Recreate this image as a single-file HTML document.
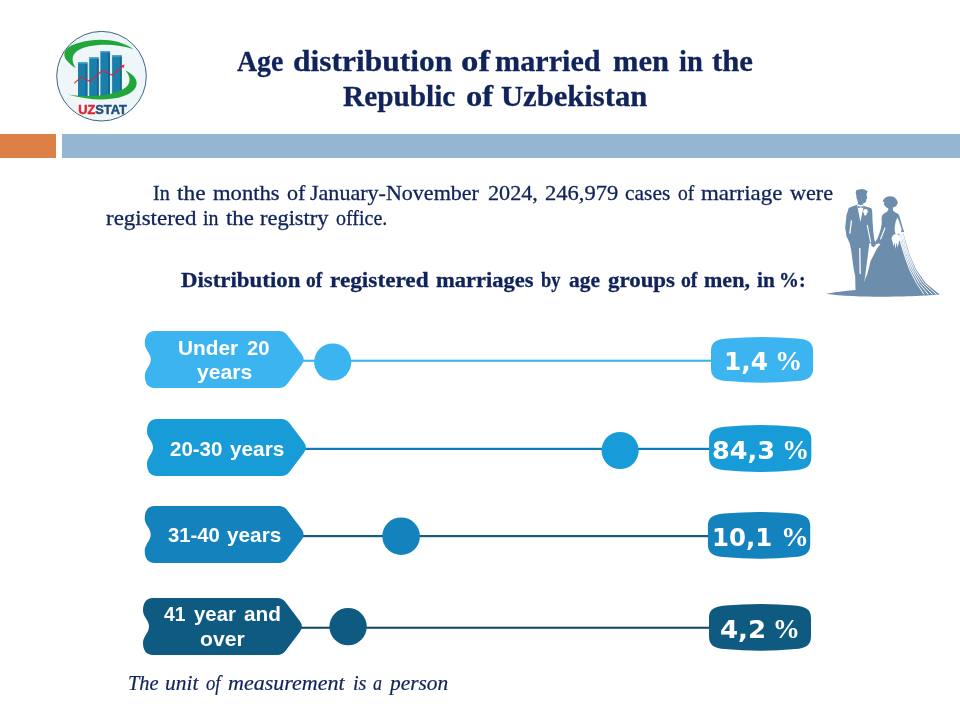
<!DOCTYPE html>
<html lang="en">
<head>
<meta charset="utf-8">
<title>Age distribution of married men in the Republic of Uzbekistan</title>
<style>
html,body{margin:0;padding:0;background:#fff;}
body{width:960px;height:720px;position:relative;overflow:hidden;font-family:"Liberation Serif",serif;color:#0f2259;}
.abs{position:absolute;}
#bar1{left:0;top:134px;width:56px;height:23.5px;background:#dd8047;}
#bar2{left:62px;top:134px;width:898px;height:23.5px;background:#94b6d2;}
.ln{position:absolute;left:0;width:960px;white-space:nowrap;color:#10235a;}
.ln span{position:absolute;top:0;display:block;transform-origin:0 50%;}
.tt,.sb{font-weight:bold;-webkit-text-stroke:0.3px #10235a;}
.pp{-webkit-text-stroke:0.3px #10235a;}
.ft{font-style:italic;-webkit-text-stroke:0.2px #10235a;}
.lb{font-family:"Liberation Sans",sans-serif;font-weight:bold;color:#fff;}
.vd{font-family:"DejaVu Sans","Liberation Sans",sans-serif;font-weight:bold;color:#fff;}
.vp{font-weight:bold;color:#fff;}
svg{position:absolute;left:0;top:0;}
</style>
</head>
<body>
<div class="abs" id="bar1"></div>
<div class="abs" id="bar2"></div>

<svg width="960" height="720" viewBox="0 0 960 720">
  <defs>
    <path id="tag" d="M10,0 H134 Q139.400,0 142.400,4 L156.800,22.900 Q161,28.500 156.800,34.100 L142.400,53 Q139.400,57 134,57 H10 C3,57 0,52 0,45 C0,38 6,35 6,28.500 C6,22 0,19 0,12.500 C0,5 3,0 10,0 Z"/>
    <path id="box" d="M16,1.800 Q51,-1.600 86,1.800 C97,2.600 102,6 102,14 V32.500 C102,40.500 97,43.900 86,44.700 Q51,48.100 16,44.700 C5,43.900 0,40.500 0,32.500 V14 C0,6 5,2.600 16,1.800 Z"/>
    <linearGradient id="vg" x1="0" y1="232" x2="0" y2="284" gradientUnits="userSpaceOnUse"><stop offset="0" stop-color="#fff" stop-opacity="0.650"/><stop offset="1" stop-color="#fff" stop-opacity="0"/></linearGradient>
  </defs>
  <!-- row 1 -->
  <g fill="#3cb4f0">
    <rect x="300" y="359.700" width="415" height="2.100"/>
    <use href="#tag" x="144.800" y="331"/>
    <circle cx="332.750" cy="362" r="18.600"/>
    <use href="#box" transform="translate(711,336.800) scale(1.001,0.990)"/>
  </g>
  <!-- row 2 -->
  <g fill="#189cd8">
    <rect x="302" y="447.800" width="412" height="2.200" fill="#1478b8"/>
    <use href="#tag" x="147" y="419"/>
    <circle cx="620.100" cy="450.500" r="18.600"/>
    <use href="#box" transform="translate(709.100,424.800) scale(1.002,1.017)"/>
  </g>
  <!-- row 3 -->
  <g fill="#1482bc">
    <rect x="300" y="535" width="412" height="2.200" fill="#1a5a80"/>
    <use href="#tag" x="144.700" y="506"/>
    <circle cx="401.100" cy="536.200" r="18.800"/>
    <use href="#box" transform="translate(707.900,511.800) scale(1.003,1.012)"/>
  </g>
  <!-- row 4 -->
  <g fill="#0f5a80">
    <rect x="298" y="626.700" width="415" height="2.100" fill="#17496b"/>
    <use href="#tag" x="143" y="598"/>
    <circle cx="348.100" cy="626.600" r="18.700"/>
    <use href="#box" transform="translate(709,603.800) scale(1,1.012)"/>
  </g>

  <!-- logo -->
  <g id="logo">
    <circle cx="101.500" cy="76.200" r="44.800" fill="#eef6fa" stroke="#3d6483" stroke-width="1"/>
    <path d="M133.400,49.300 C120,39 98,37.500 80,42.500 C62,47 58,57 76,68.250 C69,58 73,50 88,46.500 C103,43.500 120,44.500 133.400,49.300 Z" fill="#21a63a"/>
    <g fill="#d4eef8">
      <rect x="87.300" y="63" width="1.900" height="33"/>
      <rect x="98.600" y="58" width="1.900" height="38.400"/>
      <rect x="109.800" y="52" width="1.900" height="43"/>
    </g>
    <g fill="#1b7fab">
      <rect x="78" y="62.300" width="9.400" height="33.700"/>
      <rect x="89.200" y="57.400" width="9.500" height="39"/>
      <rect x="100.400" y="51.100" width="9.500" height="45.300"/>
      <rect x="112.100" y="55.300" width="9.600" height="39"/>
    </g>
    <g fill="#17678f">
      <rect x="85.600" y="63.600" width="1.800" height="32.400"/>
      <rect x="96.900" y="58.700" width="1.800" height="37.700"/>
      <rect x="108.100" y="52.400" width="1.800" height="44"/>
      <rect x="119.900" y="56.600" width="1.800" height="37"/>
    </g>
    <g fill="#4fa6cc">
      <rect x="78" y="62.300" width="9.400" height="1.300"/>
      <rect x="89.200" y="57.400" width="9.500" height="1.300"/>
      <rect x="100.400" y="51.100" width="9.500" height="1.300"/>
      <rect x="112.100" y="55.300" width="9.600" height="1.300"/>
    </g>
    <path d="M125.300,70.400 C137.500,76 140.500,85 131.500,92 C121,100 97,102.500 67.900,94.400 C92,97.800 112,95.500 123.500,89 C131,84.500 131.500,77 125.300,70.400 Z" fill="#21a63a"/>
    <polyline points="74.700,82.900 81.400,76.900 90.100,81.500 102.500,70.400 112.300,75.300 122.500,66.500" fill="none" stroke="#d9263a" stroke-width="1.100" stroke-linejoin="round" stroke-linecap="round"/>
    <path d="M124.600,64.600 L121,65.600 L123.400,68.200 Z" fill="#d9263a"/>
    <text x="78.200" y="113.700" font-family="'Liberation Sans',sans-serif" font-weight="bold" font-size="12.600" fill="#1f4e79" stroke="#1f4e79" stroke-width="0.450" textLength="48.700" lengthAdjust="spacingAndGlyphs"><tspan fill="#dd2330" stroke="#dd2330">UZ</tspan>STAT</text>
  </g>
  <!-- couple -->
  <g id="couple" fill="#6c8dac">
    <path d="M825.750,293.800 C835,292 848,290.600 856,290 L900,289 L930,291.500 L939.500,294.100 C930,295.800 905,296.800 880,296.800 C865,296.800 840,296 825.750,293.800 Z"/>
    <path id="groom" d="M861.500,189 L864.500,189.600 L867.700,191.200 L866.900,193 L866.600,194.300 L866.900,196.500 L867.300,198.600 L866.300,199.300 L866.200,201 L865.200,202.700 L863,203.400 L863.200,205 L864,206 L868,207.300 L871.400,208.300 L872.200,211.500 L872.500,220.500 L873.500,233.600 L874.300,240 L876,242.700 L875.500,245.500 L873.500,247.200 L871.500,246 L870.800,243 L869.300,243.500 L865.200,276 L863.500,286 L861,290.500 L855.500,290.500 L855.200,276 L853.900,270.200 L851,249.300 L849.750,243.500 L846.400,236 L845.200,227.300 L845.500,224.800 L846.500,215 L848.750,208.100 L852,206.600 L857.100,204.800 L858.200,203 L857.400,200.500 L856.500,198 L856.300,195.500 L855.700,192.400 L856.300,190.300 L858.500,189.500 Z"/>
    <path id="bride" d="M890.300,196.200 L893.500,196.800 L896,198.800 L897.600,201.500 L897.600,203.500 L896.500,205.500 L895.200,206.800 L893.200,207.300 L892.900,208.500 L893,210.500 L895,212.300 L898.400,213.900 L899.500,216.500 L902.700,227.800 L904.200,232.100 L902.9,232 L905.7,241.7 L909.9,255.6 L916.1,269.4 L925.8,283.3 L939.7,294.4 L900,296 L861,290.500 L864,282 L867.500,273.500 L870.600,261 L877,248.500 L880.500,244 L878.500,243.500 L875.500,244.500 L875.200,242.500 L877.700,238 L880.500,230 L881.700,224 L881.600,218 L882.300,215 L884.500,213.200 L887.500,211.300 L888.500,209.200 L888,208 L886.300,207.400 L885,206 L883.800,204 L884.300,202.500 L882.800,201.300 L883.500,199.500 L885.500,197.600 L888,196.500 Z"/>
    <g fill="#fff" stroke="none">
      <path d="M857.100,204.600 L858.200,204.200 L860.500,205.300 L863,204.500 L863.800,205.500 L860.400,221.900 Z"/>
      <circle cx="865.500" cy="211.500" r="2.400"/>
      <circle cx="865.300" cy="214.300" r="1.200"/>
      <path d="M897.400,217.500 L895.600,222 L894.600,227.800 L894.800,231.500 L895.800,234.500 L900.800,233 L901.600,229.200 L898.600,220 Z"/>
      <circle cx="896" cy="238.500" r="4.400"/>
      <path d="M892.500,241 L893.400,246.500 L894.600,242.500 L895.500,249 L896.600,242.500 L897.800,247.500 L899,241 Z"/>
    </g>
    <path d="M857.900,205.800 L860.600,206.700 L863.700,205.900 L863.600,208.100 L860.600,207.400 L858,208.100 Z"/>
    <path d="M899.5,233 L900.1,241.7 L904.3,255.6 L909.2,269.4 L916.1,283.3 L925.8,283.3 L916.1,269.4 L909.9,255.6 L905.7,241.7 L902.9,232 Z" fill="url(#vg)"/>
    <g fill="none" stroke="#fff" stroke-linecap="round">
      <path d="M851.400,221 L849.900,233" stroke-width="1.300"/>
      <path d="M867.250,225.200 L870.600,241.800" stroke-width="1.100"/>
      <path d="M859.750,248.500 L860.200,273.500" stroke-width="1.300"/>
      <path d="M885,228 L880.600,239" stroke-width="1.100"/>
      <g stroke-width="1" stroke-linejoin="round" opacity="0.950">
        <path d="M899.7,232.9 L900.4,241.7 L904.6,255.6 L909.5,269.4 L916.6,283.3 L923.8,294.0"/>
        <path d="M900.5,232.7 L901.8,241.7 L906.0,255.6 L911.3,269.4 L919.0,283.3 L928.0,294.1"/>
        <path d="M901.4,232.4 L903.2,241.7 L907.4,255.6 L913.0,269.4 L921.4,283.3 L932.2,294.2"/>
        <path d="M902.2,232.2 L904.6,241.7 L908.8,255.6 L914.7,269.4 L923.9,283.3 L936.4,294.3"/>
      </g>
    </g>
  </g>
</svg>
<!--TEXT-->
<div class="ln tt" id="t1" style="top:44.60px;height:32px;line-height:32px;font-size:28.8px"><span style="left:236.75px;transform:scaleX(0.9648)">Age</span> <span style="left:292.66px;transform:scaleX(1.0929)">distribution</span> <span style="left:461.04px;transform:scaleX(1.2116)">of</span> <span style="left:495.40px;transform:scaleX(1.0483)">married</span> <span style="left:613.25px;transform:scaleX(1.0612)">men</span> <span style="left:678.75px;transform:scaleX(0.9896)">in</span> <span style="left:711.75px;transform:scaleX(1.0685)">the</span></div>
<div class="ln tt" id="t2" style="top:79.60px;height:32px;line-height:32px;font-size:28.8px"><span style="left:342.50px;transform:scaleX(1.0169)">Republic</span> <span style="left:466.12px;transform:scaleX(1.1326)">of</span> <span style="left:501.25px;transform:scaleX(1.0630)">Uzbekistan</span></div>
<div class="ln pp" id="p1" style="top:181.00px;height:24px;line-height:24px;font-size:21.5px"><span style="left:153.00px;transform:scaleX(0.9361)">In</span> <span style="left:177.00px;transform:scaleX(1.0885)">the</span> <span style="left:212.50px;transform:scaleX(1.0525)">months</span> <span style="left:287.00px;transform:scaleX(1.0267)">of</span> <span style="left:310.00px;transform:scaleX(1.0252)">January-November</span> <span style="left:487.50px;transform:scaleX(1.0312)">2024,</span> <span style="left:545.00px;transform:scaleX(1.0488)">246,979</span> <span style="left:625.00px;transform:scaleX(1.0001)">cases</span> <span style="left:678.00px;transform:scaleX(0.9067)">of</span> <span style="left:701.25px;transform:scaleX(1.0646)">marriage</span> <span style="left:790.00px;transform:scaleX(1.0308)">were</span></div>
<div class="ln pp" id="p2" style="top:205.50px;height:24px;line-height:24px;font-size:21.5px"><span style="left:105.50px;transform:scaleX(1.0675)">registered</span> <span style="left:203.00px;transform:scaleX(0.9279)">in</span> <span style="left:225.75px;transform:scaleX(1.0593)">the</span> <span style="left:260.00px;transform:scaleX(1.0428)">registry</span> <span style="left:336.25px;transform:scaleX(0.9304)">office.</span></div>
<div class="ln sb" id="sub" style="top:269.00px;height:22px;line-height:22px;font-size:20.6px"><span style="left:180.75px;transform:scaleX(1.1100)">Distribution</span> <span style="left:306.25px;transform:scaleX(0.9428)">of</span> <span style="left:330.00px;transform:scaleX(1.1298)">registered</span> <span style="left:436.25px;transform:scaleX(1.0932)">marriages</span> <span style="left:541.25px;transform:scaleX(0.8907)">by</span> <span style="left:569.25px;transform:scaleX(1.0391)">age</span> <span style="left:607.50px;transform:scaleX(1.1117)">groups</span> <span style="left:681.00px;transform:scaleX(0.9564)">of</span> <span style="left:704.25px;transform:scaleX(1.0702)">men,</span> <span style="left:756.75px;transform:scaleX(1.0298)">in</span> <span style="left:779.32px;transform:scaleX(0.9657)">%:</span></div>
<div class="ln lb" id="l1a" style="top:335.70px;height:23px;line-height:23px;font-size:20.5px"><span style="left:178.28px;transform:scaleX(1.0163)">Under</span> <span style="left:247.10px;transform:scaleX(0.9866)">20</span></div>
<div class="ln lb" id="l1b" style="top:360.40px;height:23px;line-height:23px;font-size:20.5px"><span style="left:196.80px;transform:scaleX(1.0323)">years</span></div>
<div class="ln lb" id="l2" style="top:436.80px;height:23px;line-height:23px;font-size:20.5px"><span style="left:169.70px;transform:scaleX(0.9994)">20-30</span> <span style="left:229.60px;transform:scaleX(1.0135)">years</span></div>
<div class="ln lb" id="l3" style="top:523.40px;height:23px;line-height:23px;font-size:20.5px"><span style="left:167.80px;transform:scaleX(0.9898)">31-40</span> <span style="left:227.20px;transform:scaleX(1.0135)">years</span></div>
<div class="ln lb" id="l4a" style="top:602.30px;height:23px;line-height:23px;font-size:20.5px"><span style="left:164.20px;transform:scaleX(0.9419)">41</span> <span style="left:193.70px;transform:scaleX(0.9928)">year</span> <span style="left:244.00px;transform:scaleX(1.0133)">and</span></div>
<div class="ln lb" id="l4b" style="top:627.20px;height:23px;line-height:23px;font-size:20.5px"><span style="left:199.70px;transform:scaleX(1.0341)">over</span></div>
<div class="ln vd" id="v1" style="top:346.75px;height:29px;line-height:29px;font-size:24.8px"><span style="left:724.24px;transform:scaleX(1.0042)">1,4</span></div>
<div class="ln vp" id="v1p" style="top:345.75px;height:30px;line-height:30px;font-size:27.2px"><span style="left:774.89px;transform:scaleX(1.0043)">%</span></div>
<div class="ln vd" id="v2" style="top:436.00px;height:29px;line-height:29px;font-size:24.8px"><span style="left:712.07px;transform:scaleX(1.0292)">84,3</span></div>
<div class="ln vp" id="v2p" style="top:435.00px;height:30px;line-height:30px;font-size:27.2px"><span style="left:781.99px;transform:scaleX(1.0043)">%</span></div>
<div class="ln vd" id="v3" style="top:523.00px;height:29px;line-height:29px;font-size:24.8px"><span style="left:712.43px;transform:scaleX(0.9857)">10,1</span></div>
<div class="ln vp" id="v3p" style="top:522.00px;height:30px;line-height:30px;font-size:27.2px"><span style="left:780.71px;transform:scaleX(1.0217)">%</span></div>
<div class="ln vd" id="v4" style="top:615.00px;height:29px;line-height:29px;font-size:24.8px"><span style="left:720.45px;transform:scaleX(1.0498)">4,2</span></div>
<div class="ln vp" id="v4p" style="top:614.00px;height:30px;line-height:30px;font-size:27.2px"><span style="left:772.75px;transform:scaleX(1.0000)">%</span></div>
<div class="ln ft" id="foot" style="top:672.25px;height:22px;line-height:22px;font-size:20.6px"><span style="left:128.26px;transform:scaleX(0.9916)">The</span> <span style="left:165.21px;transform:scaleX(1.0444)">unit</span> <span style="left:206.25px;transform:scaleX(0.9069)">of</span> <span style="left:227.50px;transform:scaleX(1.0696)">measurement</span> <span style="left:353.27px;transform:scaleX(0.9826)">is</span> <span style="left:373.00px;transform:scaleX(0.8750)">a</span> <span style="left:389.58px;transform:scaleX(1.0387)">person</span></div>
<!--/TEXT-->



</body>
</html>
